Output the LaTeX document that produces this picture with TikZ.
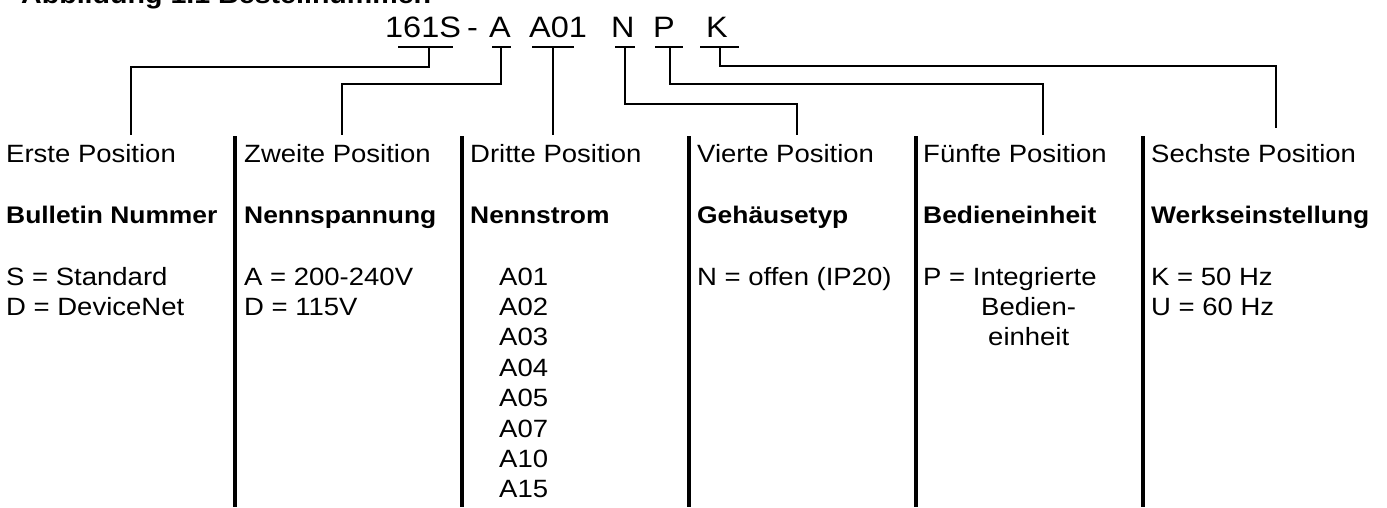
\documentclass[tikz,border=0pt]{standalone}
\usepackage{fontspec}
\setmainfont{Liberation Sans}[FakeStretch=1.1]
\begin{document}
\begin{tikzpicture}[x=1pt,y=-1pt,
  txt/.style={anchor=base west, inner sep=0pt, font=\fontsize{25}{30}\selectfont},
  hdr/.style={txt, font=\fontsize{24}{30}\selectfont\bfseries},
  code/.style={anchor=base west, inner sep=0pt, font=\fontsize{29.5}{34}\selectfont},
  link/.style={line width=1.5pt},
  colrule/.style={line width=3.5pt},
]
\useasboundingbox (0,0) rectangle (1387,507);
\clip (0,0) rectangle (1387,507);

% caption
\node[hdr, font=\fontsize{26}{30}\selectfont\bfseries] (title) at (21,3) {Abbildung 1.1 Bestellnummer.};

% catalogue number
\node[code] (c1) at (385,37) {161S};
\node[code] (dash) at (467,37) {-};
\node[code] (c2) at (489,37) {A};
\node[code] (c3) at (529,37) {A01};
\node[code] (c4) at (611,37) {N};
\node[code] (c5) at (653,37) {P};
\node[code] (c6) at (706,37) {K};

% underline bars and their taps
\draw[link] (398,47) -- (453,47);
\draw[link] (492,47) -- (511,47);
\draw[link] (532,47) -- (574,47);
\draw[link] (615,47) -- (635,47);
\draw[link] (655,47) -- (683,47);
\draw[link] (700,47) -- (739,47);
\coordinate (t1) at (429,47);
\coordinate (t2) at (501,47);
\coordinate (t3) at (553,47);
\coordinate (t4) at (625,47);
\coordinate (t5) at (670,47);
\coordinate (t6) at (720,47);

% elbows and feet of the leader lines
\coordinate (k1) at (131,67);   \coordinate (f1) at (131,135);
\coordinate (k2) at (342,84);   \coordinate (f2) at (342,135);
                                \coordinate (f3) at (553,135);
\coordinate (k4) at (797,104);  \coordinate (f4) at (797,135);
\coordinate (k5) at (1043,84);  \coordinate (f5) at (1043,135);
\coordinate (k6) at (1276,66);  \coordinate (f6) at (1276,128);

\draw[link] (t1) |- (k1) -- (f1);
\draw[link] (t2) |- (k2) -- (f2);
\draw[link] (t3) -- (f3);
\draw[link] (t4) |- (k4) -- (f4);
\draw[link] (t5) |- (k5) -- (f5);
\draw[link] (t6) |- (k6) -- (f6);

% column rules
\foreach \x in {235,462,689,916,1143}
  \draw[colrule] (\x,136) -- (\x,507);

% column 1
\node[txt] (p1) at (6,162) {Erste Position};
\node[hdr] (h1) at (6,223) {Bulletin Nummer};
\node[txt] (v1a) at (6,285) {S = Standard};
\node[txt] (v1b) at (6,315.4) {D = DeviceNet};

% column 2
\node[txt] (p2) at (244,162) {Zweite Position};
\node[hdr] (h2) at (244,223) {Nennspannung};
\node[txt] (v2a) at (244,285) {A = 200-240V};
\node[txt] (v2b) at (244,315.4) {D = 115V};

% column 3
\node[txt] (p3) at (470,162) {Dritte Position};
\node[hdr] (h3) at (470,223) {Nennstrom};
\foreach \v [count=\i from 0] in {A01,A02,A03,A04,A05,A07,A10,A15}
  \node[txt] (v3-\i) at (499,285+30.4*\i) {\v};

% column 4
\node[txt] (p4) at (697,162) {Vierte Position};
\node[hdr] (h4) at (697,223) {Gehäusetyp};
\node[txt] (v4a) at (697,285) {N = offen (IP20)};

% column 5
\node[txt] (p5) at (923,162) {Fünfte Position};
\node[hdr] (h5) at (923,223) {Bedieneinheit};
\node[txt] (v5a) at (923,285) {P = Integrierte};
\node[txt] (v5b) at (981,315.4) {Bedien-};
\node[txt] (v5c) at (988,345.8) {einheit};

% column 6
\node[txt] (p6) at (1151,162) {Sechste Position};
\node[hdr] (h6) at (1151,223) {Werkseinstellung};
\node[txt] (v6a) at (1151,285) {K = 50 Hz};
\node[txt] (v6b) at (1151,315.4) {U = 60 Hz};
\end{tikzpicture}
\end{document}
